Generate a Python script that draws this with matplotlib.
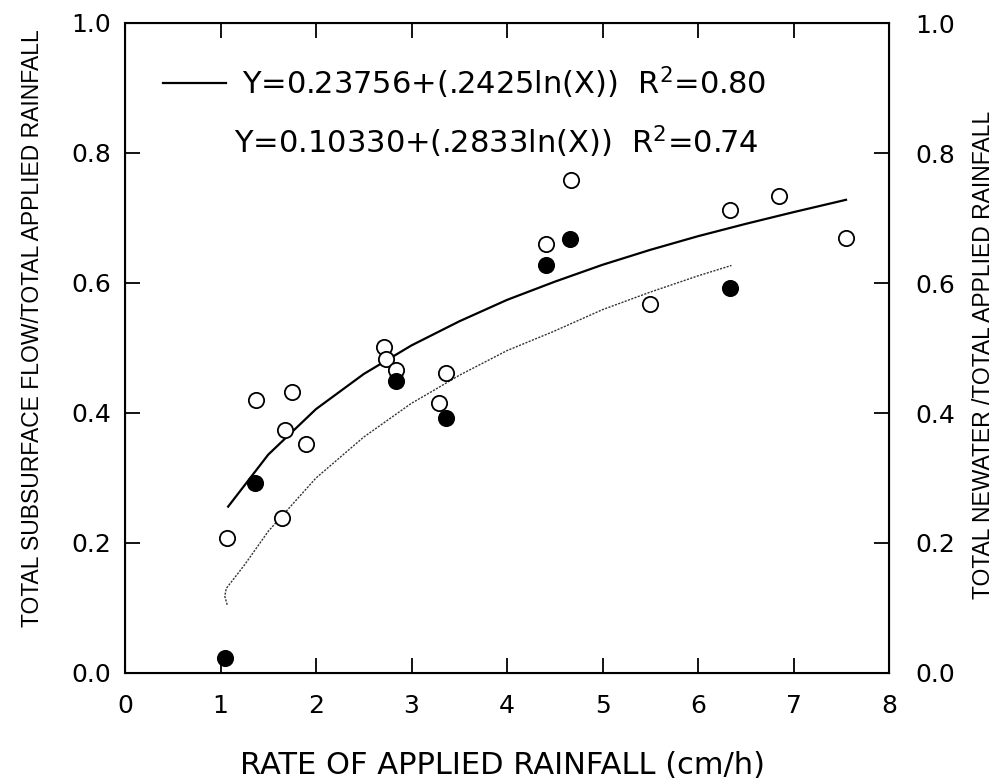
import matplotlib
matplotlib.use("Agg")
import matplotlib.pyplot as plt

# Rate of applied rainfall (cm/h) vs fractions of applied rainfall
open_x = [1.07, 1.37, 1.64, 1.68, 1.75, 1.90, 2.71, 2.73, 2.84, 3.29, 3.36,
          4.41, 4.67, 5.50, 6.34, 6.85, 7.55]
open_y = [0.207, 0.420, 0.239, 0.374, 0.433, 0.352, 0.502, 0.483, 0.466, 0.415, 0.462,
          0.660, 0.758, 0.568, 0.712, 0.734, 0.670]

filled_x = [1.05, 1.36, 2.84, 3.36, 4.41, 4.66, 6.33]
filled_y = [0.023, 0.292, 0.449, 0.392, 0.628, 0.668, 0.592]

# fitted curves
solid_x = [1.08, 1.5, 2.0, 2.5, 3.0, 3.5, 4.0, 4.5, 5.0, 5.5, 6.0, 6.5, 7.0, 7.55]
solid_y = [0.256, 0.336, 0.406, 0.460, 0.504, 0.541, 0.574, 0.602, 0.628, 0.651, 0.672, 0.691, 0.709, 0.728]

dotted_x = [1.07, 1.045, 1.06, 1.25, 1.5, 2.0, 2.5, 3.0, 3.2, 3.5, 4.0, 4.48, 5.0, 5.5, 6.0, 6.35]
dotted_y = [0.105, 0.118, 0.130, 0.166, 0.218, 0.300, 0.363, 0.415, 0.432, 0.458, 0.496, 0.525, 0.559, 0.586, 0.611, 0.627]

eq_solid = r'Y=0.23756+(.2425ln(X))  R$^{2}$=0.80'
eq_dotted = r'Y=0.10330+(.2833ln(X))  R$^{2}$=0.74'

x_ticks = [0, 1, 2, 3, 4, 5, 6, 7, 8]
y_ticks = [0.0, 0.2, 0.4, 0.6, 0.8, 1.0]

plt.rcParams['mathtext.default'] = 'regular'
plt.rcParams['font.family'] = ['DejaVu Sans']
narrow = ['Liberation Sans', 'DejaVu Sans']

fig = plt.figure(figsize=(9.96, 7.81), dpi=100)
ax = fig.add_axes([125 / 996, 108 / 781, 764 / 996, 650 / 781])

ax.plot(solid_x, solid_y, color='black', lw=1.6, zorder=2)
ax.plot(dotted_x, dotted_y, color='#333333', lw=1.0, linestyle=(0, (1.5, 1)), zorder=2)
ax.plot(open_x, open_y, 'o', ms=11, mfc='white', mec='black', mew=1.3, zorder=3)
ax.plot(filled_x, filled_y, 'o', ms=11, mfc='black', mec='black', mew=1.3, zorder=3)

# equation labels
ax.plot([0.40, 1.06], [0.908, 0.908], color='black', lw=1.6)
ax.text(1.22, 0.908, eq_solid, fontsize=22, va='center', ha='left')
ax.text(1.14, 0.818, eq_dotted, fontsize=22, va='center', ha='left')

ax.set_xlim(0, 8)
ax.set_ylim(0, 1.0)
ax.set_xticks(x_ticks)
ax.set_yticks(y_ticks)
ax.set_xticklabels([str(t) for t in x_ticks])
ax.set_yticklabels([f'{t:.1f}' for t in y_ticks])

for side in ax.spines.values():
    side.set_linewidth(1.5)

ax.tick_params(direction='in', length=11, width=1.3, labelsize=18,
               top=True, right=True)
ax.tick_params(axis='y', pad=10)
ax.tick_params(axis='x', pad=15)

ax2 = ax.twinx()
ax2.set_ylim(0, 1.0)
ax2.set_yticks(y_ticks)
ax2.set_yticklabels([f'{t:.1f}' for t in y_ticks])
ax2.tick_params(direction='in', length=11, width=1.3, labelsize=18, pad=19)

fig.text(502 / 996, 1 - 765 / 781, 'RATE OF APPLIED RAINFALL (cm/h)', fontsize=22,
         ha='center', va='center')
fig.text(33 / 996, 1 - 328 / 781, 'TOTAL SUBSURFACE FLOW/TOTAL APPLIED RAINFALL',
         fontsize=16.5, family=narrow, rotation=90, ha='center', va='center')
fig.text(983 / 996, 1 - 355 / 781, 'TOTAL NEWATER /TOTAL APPLIED RAINFALL',
         fontsize=16.5, family=narrow, rotation=90, ha='center', va='center')

fig.savefig('out.png', dpi=100)
